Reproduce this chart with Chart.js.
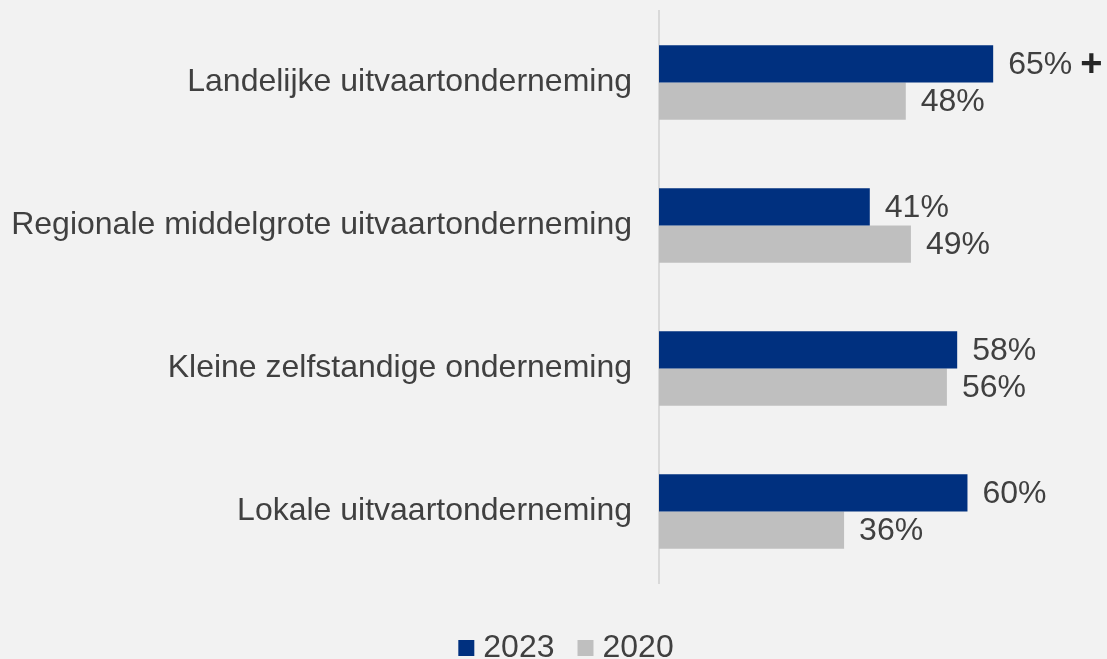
<!DOCTYPE html>
<html lang="nl">
<head>
  <meta charset="UTF-8">
  <title>Uitvaartondernemingen 2023 vs 2020</title>
  <script src="https://cdn.jsdelivr.net/npm/chart.js"></script>
  <style>
    html, body { margin: 0; padding: 0; background: #f2f2f2; }
    #wrap { width: 1107px; height: 659px; }
  </style>
</head>
<body>
  <div id="wrap"><canvas id="chart"></canvas></div>
  <script>
    // Data
    const categories = [
      'Landelijke uitvaartonderneming',
      'Regionale middelgrote uitvaartonderneming',
      'Kleine zelfstandige onderneming',
      'Lokale uitvaartonderneming'
    ];
    const years = ['2023', '2020'];
    const values2023 = [65, 41, 58, 60];
    const values2020 = [48, 49, 56, 36];
    const significant2023 = [true, false, false, false]; // "+" marker

    const textColor = '#404040';
    const fontFamily = '"Liberation Sans", Arial, sans-serif';

    // draws "65%" etc right of each bar, plus the significance marker
    const valueLabels = {
      id: 'valueLabels',
      afterDatasetsDraw(chart) {
        const ctx = chart.ctx;
        ctx.save();
        ctx.textBaseline = 'middle';
        chart.data.datasets.forEach((ds, di) => {
          const meta = chart.getDatasetMeta(di);
          meta.data.forEach((bar, i) => {
            const txt = ds.data[i] + '%';
            const x = bar.x + 15;
            const y = bar.y + 1;
            ctx.font = '32px ' + fontFamily;
            ctx.fillStyle = textColor;
            ctx.fillText(txt, x, y);
            if (di === 0 && significant2023[i]) {
              const w = ctx.measureText(txt).width;
              ctx.font = 'bold 38px ' + fontFamily;
              ctx.fillStyle = '#262626';
              ctx.fillText('+', x + w + 8, y + 1);
            }
          });
        });
        ctx.restore();
      }
    };

    // small custom legend under the chart
    const bottomLegend = {
      id: 'bottomLegend',
      afterDraw(chart) {
        const ctx = chart.ctx;
        const box = 16, gapText = 9, gapItem = 23, cy = 648, centreX = 566;
        ctx.save();
        ctx.font = '32px ' + fontFamily;
        ctx.textBaseline = 'middle';
        const items = chart.data.datasets.map(ds => ({
          text: ds.label, color: ds.backgroundColor, w: ctx.measureText(ds.label).width
        }));
        let total = 0;
        items.forEach((it, i) => { total += box + gapText + it.w + (i ? gapItem : 0); });
        let x = centreX - total / 2;
        items.forEach(it => {
          ctx.fillStyle = it.color;
          ctx.fillRect(x, cy - box / 2, box, box);
          x += box + gapText;
          ctx.fillStyle = textColor;
          ctx.fillText(it.text, x, cy);
          x += it.w + gapItem;
        });
        ctx.restore();
      }
    };

    Chart.defaults.font.family = fontFamily;
    Chart.defaults.color = textColor;

    new Chart(document.getElementById('chart'), {
      type: 'bar',
      data: {
        labels: categories,
        datasets: [
          { label: years[0], data: values2023, backgroundColor: '#00307f' },
          { label: years[1], data: values2020, backgroundColor: '#bfbfbf' }
        ]
      },
      options: {
        indexAxis: 'y',
        responsive: true,
        maintainAspectRatio: false,
        animation: false,
        layout: { padding: { top: 11, right: 11, left: 0, bottom: 76 } },
        datasets: { bar: { barPercentage: 1, categoryPercentage: 0.52 } },
        scales: {
          x: { display: false, min: 0, max: 85 },
          y: {
            grid: { display: false },
            border: { display: true, color: '#d9d9d9', width: 2 },
            ticks: { font: { size: 32 }, color: textColor, padding: 19 },
            afterFit(scale) {
              scale.width = 659;
              scale.paddingTop = 0;
              scale.paddingBottom = 0;
            }
          }
        },
        plugins: {
          legend: { display: false },
          tooltip: { enabled: false }
        }
      },
      plugins: [valueLabels, bottomLegend]
    });
  </script>
</body>
</html>
